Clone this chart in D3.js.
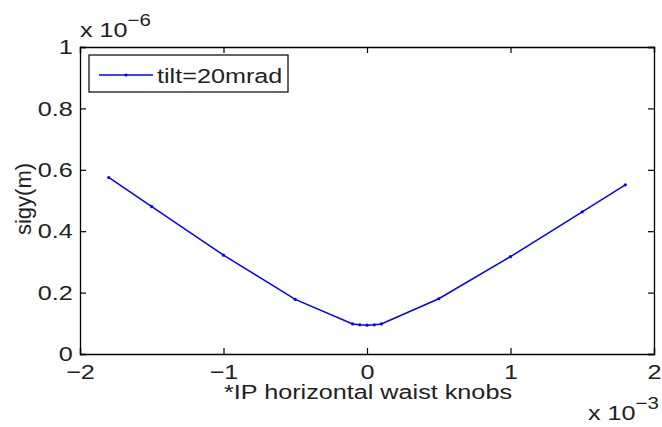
<!DOCTYPE html>
<html>
<head>
<meta charset="utf-8">
<script src="https://cdn.jsdelivr.net/npm/d3@7"></script>
<style>
  body { margin: 0; background: #fff; }
  text { font-family: "Liberation Sans", Arial, sans-serif; fill: #222; }
</style>
</head>
<body>
<script>
// knob setting (x 1e-3) and sigy (x 1e-6 m)
var knobs = [-1.8, -1.5, -1, -0.5, -0.1, -0.05, 0, 0.05, 0.1, 0.5, 1, 1.5, 1.8]
var sigy = [0.575, 0.48, 0.322, 0.178, 0.098, 0.095, 0.094, 0.095, 0.098, 0.18, 0.317, 0.463, 0.551]
var xTicks = [-2, -1, 0, 1, 2]
var yTicks = [0, 0.2, 0.4, 0.6, 0.8, 1]
var serieNombre = "tilt=20mrad"

var datos = knobs.map((k, i) => ({x: k, y: sigy[i]}))

var margin = {top: 47, right: 8, bottom: 73, left: 80}
var width = 662 - margin.left - margin.right
var height = 427 - margin.top - margin.bottom

var svg = d3.select("body").append("svg")
    .attr("width", 662)
    .attr("height", 427)
var g = svg.append("g")
    .attr("transform", "translate(" + margin.left + "," + margin.top + ")")

var x = d3.scaleLinear().domain([-2, 2]).range([0, width])
var y = d3.scaleLinear().domain([0, 1]).range([height, 0])

var fs = "21px"
var estira = 1.2   // el texto del original sale algo ensanchado

// ejes (ticks hacia dentro, estilo matlab)
g.append("g").attr("transform", "translate(0," + height + ")")
    .call(d3.axisBottom(x).tickValues(xTicks).tickSize(-6).tickPadding(10)
        .tickFormat(d => d < 0 ? "\u2212" + Math.abs(d) : d))
g.append("g")
    .call(d3.axisTop(x).tickValues(xTicks).tickSize(-6).tickFormat(""))
g.append("g")
    .call(d3.axisLeft(y).tickValues(yTicks).tickSize(-6).tickPadding(6)
        .tickFormat(d => d === 0 || d === 1 ? d : d3.format(".1f")(d)))
g.append("g").attr("transform", "translate(" + width + ",0)")
    .call(d3.axisRight(y).tickValues(yTicks).tickSize(-6).tickFormat(""))

g.selectAll(".domain").attr("stroke", "#000").attr("stroke-width", 1.3)
g.selectAll(".tick line").attr("stroke", "#000").attr("stroke-width", 1.2)
g.selectAll(".tick text").attr("font-size", fs).attr("fill", "#222")
    .attr("font-family", "Liberation Sans, Arial, sans-serif")
    .attr("transform", "scale(" + estira + ",1)")

// linea
var linea = d3.line().x(d => x(d.x)).y(d => y(d.y))
g.append("path")
    .datum(datos)
    .attr("fill", "none")
    .attr("stroke", "#0000ff")
    .attr("stroke-width", 1.5)
    .attr("d", linea)

g.append("g").selectAll("circle")
    .data(datos)
    .enter()
    .append("circle")
    .attr("cx", d => x(d.x))
    .attr("cy", d => y(d.y))
    .attr("r", 1.6)
    .attr("fill", "#0000ff")

// texto ensanchado colocado en (px, py)
function texto(padre, px, py, ancla) {
    return padre.append("text")
        .attr("transform", "translate(" + px + "," + py + ") scale(" + estira + ",1)")
        .attr("text-anchor", ancla || "start")
        .attr("font-size", fs)
}

// leyenda
var ley = g.append("g").attr("transform", "translate(9,8)")
ley.append("rect")
    .attr("width", 199).attr("height", 37)
    .attr("fill", "#fff").attr("stroke", "#000").attr("stroke-width", 1.2)
ley.append("line")
    .attr("x1", 10).attr("x2", 64).attr("y1", 20).attr("y2", 20)
    .attr("stroke", "#0000ff").attr("stroke-width", 1.5)
ley.append("circle").attr("cx", 37).attr("cy", 20).attr("r", 1.6).attr("fill", "#0000ff")
texto(ley, 68, 28).text(serieNombre)

// titulos de ejes
texto(svg, 368, 399, "middle").text("*IP horizontal waist knobs")
svg.append("text")
    .attr("transform", "translate(31,199) rotate(-90)")
    .attr("text-anchor", "middle").attr("font-size", "22px")
    .text("sigy(m)")

// multiplicadores
var m1 = texto(svg, 80, 37)
m1.append("tspan").text("x 10")
m1.append("tspan").attr("dy", -11).attr("font-size", "17px").text("\u22126")
var m2 = texto(svg, 588, 420)
m2.append("tspan").text("x 10")
m2.append("tspan").attr("dy", -11).attr("font-size", "17px").text("\u22123")
</script>
</body>
</html>
